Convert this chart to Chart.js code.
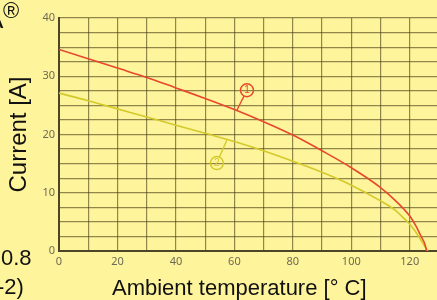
<!DOCTYPE html>
<html>
<head>
<meta charset="utf-8">
<script src="https://cdn.jsdelivr.net/npm/chart.js@4.4.1/dist/chart.umd.min.js"></script>
<style>
  html, body { margin: 0; padding: 0; width: 437px; height: 300px; overflow: hidden; background: #FEF49C; }
  #wrap { position: absolute; left: 0; top: 0; width: 460px; height: 300px; }
  .frag { position: absolute; font-family: "Liberation Sans", Arial, sans-serif; color: #111; white-space: nowrap; line-height: 22px; font-size: 22px; }
</style>
</head>
<body>
<div id="wrap"><canvas id="c" width="460" height="300"></canvas></div>
<div class="frag" style="left:-14px; top:6px; font-size:26px; line-height:26px;">A</div>
<div class="frag" style="left:3px; top:0px; font-size:22px;">®</div>
<div class="frag" style="left:1px; top:247px;">0.8</div>
<div class="frag" style="left:-3px; top:276px;">-2)</div>
<div class="frag" id="xtitle" style="left:112px; top:277px;">Ambient temperature [° C]</div>
<script>
// ---- data ----
const tempRed    = [0, 10, 20, 30, 40, 50, 60, 70, 80, 90, 100, 110, 115, 120, 122, 124, 125, 125.8];
const currentRed = [34.6, 33.0, 31.4, 29.8, 28.0, 26.2, 24.3, 22.2, 19.9, 17.2, 14.3, 10.9, 8.7, 6.0, 4.4, 2.4, 1.4, 0];
const tempYellow    = [0, 10, 20, 30, 40, 50, 60, 70, 80, 90, 100, 110, 115, 118, 120, 122, 124, 125, 126.2];
const currentYellow = [27.1, 25.8, 24.4, 23.0, 21.6, 20.2, 18.8, 17.2, 15.4, 13.5, 11.3, 8.6, 7.0, 5.6, 4.6, 3.3, 1.7, 0.9, 0];
const curveNames = ['1', '2'];
// callout circles (data coordinates): circle centre and point on curve
const calloutCenterX = [64.3, 54.0];
const calloutCenterY = [27.6, 15.1];
const calloutTipX = [60.9, 57.4];
const calloutTipY = [24.2, 19.0];
const xTitle = 'Ambient temperature [° C]';
const yTitle = 'Current [A]';

const RED = '#E8472C';
const YEL = '#D3C92A';
const curveColors = [RED, YEL];

const toPts = (xs, ys) => xs.map((x, i) => ({x: x, y: ys[i]}));

const callouts = {
  id: 'callouts',
  afterDatasetsDraw(chart) {
    const {ctx, scales: {x, y}} = chart;
    ctx.save();
    for (let i = 0; i < curveNames.length; i++) {
      const cx = x.getPixelForValue(calloutCenterX[i]);
      const cy = y.getPixelForValue(calloutCenterY[i]);
      const tx = x.getPixelForValue(calloutTipX[i]);
      const ty = y.getPixelForValue(calloutTipY[i]);
      const r = 6.5;
      const ang = Math.atan2(ty - cy, tx - cx);
      ctx.strokeStyle = curveColors[i];
      ctx.fillStyle = curveColors[i];
      ctx.lineWidth = 1.4;
      ctx.beginPath();
      ctx.moveTo(cx + r * Math.cos(ang), cy + r * Math.sin(ang));
      ctx.lineTo(tx, ty);
      ctx.stroke();
      ctx.beginPath();
      ctx.arc(cx, cy, r, 0, Math.PI * 2);
      ctx.stroke();
      ctx.font = '10px "Liberation Sans", Arial, sans-serif';
      ctx.textAlign = 'center';
      ctx.textBaseline = 'middle';
      ctx.fillText(curveNames[i], cx, cy + 0.5);
    }
    ctx.restore();
  }
};

const gridColor = 'rgba(70,60,20,0.6)';
const tickFont = {family: '"Noto Sans", sans-serif', size: 11};

new Chart(document.getElementById('c'), {
  type: 'line',
  data: {
    datasets: [
      {data: toPts(tempRed, currentRed), borderColor: RED, borderWidth: 1.6, pointRadius: 0, cubicInterpolationMode: 'monotone', fill: false},
      {data: toPts(tempYellow, currentYellow), borderColor: YEL, borderWidth: 1.6, pointRadius: 0, cubicInterpolationMode: 'monotone', fill: false}
    ]
  },
  options: {
    responsive: false,
    animation: false,
    events: [],
    layout: {padding: {top: 18, right: 21, bottom: 0, left: 0}},
    plugins: {legend: {display: false}, tooltip: {enabled: false}},
    scales: {
      x: {
        type: 'linear', min: 0, max: 130,
        afterFit(s) { s.height = 49; },
        grid: {color: gridColor, lineWidth: 1.2, drawTicks: false},
        border: {color: '#4d4528', width: 2},
        ticks: {stepSize: 10, autoSkip: false, maxRotation: 0, padding: 4, color: '#6e6a55', font: tickFont,
          callback: v => (v % 20 === 0 && v <= 120) ? String(v) : ''}
      },
      y: {
        type: 'linear', min: 0, max: 40,
        afterFit(s) { s.width = 59; },
        grid: {color: gridColor, lineWidth: 1.2, drawTicks: false},
        border: {color: '#4d4528', width: 2},
        title: {display: true, text: yTitle, color: '#111', font: {family: '"Liberation Sans", Arial, sans-serif', size: 24}, padding: {top: 5, bottom: 0}},
        ticks: {stepSize: 2.5, autoSkip: false, padding: 4, color: '#6e6a55', font: tickFont,
          callback: v => (v % 10 === 0) ? String(v) : ''}
      }
    }
  },
  plugins: [callouts]
});
</script>
</body>
</html>
